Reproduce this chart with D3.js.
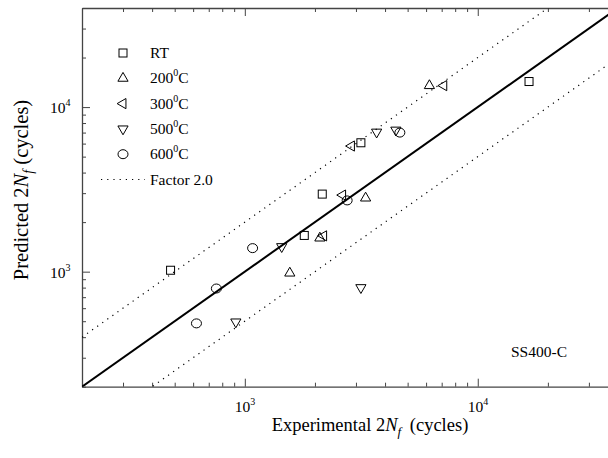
<!DOCTYPE html>
<html>
<head>
<meta charset="utf-8">
<script src="https://cdn.jsdelivr.net/npm/d3@7"></script>
<style>
  body { margin: 0; background: #fff; }
  svg { font-family: "Liberation Serif", "Times New Roman", serif; }
</style>
</head>
<body>
<div id="chart"></div>
<script>
// experimental vs predicted reversals to failure, one array per temperature
const seriesNames = ["RT", "200", "300", "500", "600"];
const rtData   = [[480, 1020], [2150, 2960], [1800, 1660], [3150, 6070], [16600, 14300]];
const t200Data = [[6200, 13500], [3300, 2800], [2100, 1600], [1560, 980]];
const t300Data = [[7150, 13500], [2870, 5800], [2630, 2920], [2180, 1650]];
const t500Data = [[3680, 7050], [4450, 7250], [1440, 1420], [3150, 800], [915, 495]];
const t600Data = [[620, 485], [755, 790], [1080, 1390], [2750, 2710], [4630, 7000]];
const majorTicks = [1000, 10000];
const factor = 2.0;

const W = 608, H = 458;
const margin = {top: 8, left: 82},
      width = 536, height = 378.7;

const svg = d3.select("#chart").append("svg")
    .attr("width", W).attr("height", H);

const x = d3.scaleLog().domain([200, 40000]).range([margin.left, margin.left + width]);
const y = d3.scaleLog().domain([200, 40000]).range([margin.top + height, margin.top]);

// all 1..9 x decade ticks inside the domain
const allTicks = [];
[100, 1000, 10000].forEach(d => {
    for (let k = 1; k < 10; k++) {
        const v = d * k;
        if (v >= 200 && v <= 40000) allTicks.push(v);
    }
});
const minorTicks = allTicks.filter(v => !majorTicks.includes(v));

const axisColor = "#444";
const plot = svg.append("g");

function drawAxis(axisFn, scale, transform) {
    plot.append("g").attr("transform", transform)
        .call(axisFn(scale).tickValues(minorTicks).tickSize(-4).tickFormat("").tickSizeOuter(0))
        .call(g => g.selectAll("line").attr("stroke", axisColor))
        .call(g => g.select(".domain").attr("stroke", axisColor).attr("stroke-width", 1.3));
    plot.append("g").attr("transform", transform)
        .call(axisFn(scale).tickValues(majorTicks).tickSize(-8).tickFormat("").tickSizeOuter(0))
        .call(g => g.selectAll("line").attr("stroke", axisColor))
        .call(g => g.select(".domain").remove());
}

drawAxis(d3.axisBottom, x, `translate(0,${margin.top + height})`);
drawAxis(d3.axisTop, x, `translate(0,${margin.top})`);
drawAxis(d3.axisLeft, y, `translate(${margin.left},0)`);

// tick labels 10^n
majorTicks.forEach(v => {
    const e = Math.round(Math.log10(v));
    const tx = svg.append("text")
        .attr("x", x(v) - 10).attr("y", margin.top + height + 25)
        .attr("font-size", 15.5);
    tx.append("tspan").text("10");
    tx.append("tspan").attr("dy", -7).attr("font-size", 10).text(e);

    const ty = svg.append("text")
        .attr("x", 50).attr("y", y(v) + 6)
        .attr("font-size", 15.5);
    ty.append("tspan").text("10");
    ty.append("tspan").attr("dy", -7).attr("font-size", 10).text(e);
});

// clip for lines
svg.append("clipPath").attr("id", "clip")
    .append("rect").attr("x", margin.left).attr("y", margin.top)
    .attr("width", width).attr("height", height);

const lineG = svg.append("g").attr("clip-path", "url(#clip)");
const dom = [200, 40000];
const refLine = d3.line().x(d => x(d[0])).y(d => y(d[1]));

lineG.append("path")
    .datum(dom.map(v => [v, v]))
    .attr("d", refLine).attr("fill", "none")
    .attr("stroke", "#000").attr("stroke-width", 2);

[factor, 1 / factor].forEach(f => {
    lineG.append("path")
        .datum(dom.map(v => [v, v * f]))
        .attr("d", refLine).attr("fill", "none")
        .attr("stroke", "#000").attr("stroke-width", 1.2)
        .attr("stroke-dasharray", "1.2,5");
});

// markers
const tri = d3.symbol().type(d3.symbolTriangle).size(45);
const markers = {
    RT:  g => g.append("rect").attr("x", -4).attr("y", -4).attr("width", 8).attr("height", 8),
    "200": g => g.append("path").attr("d", tri()),
    "300": g => g.append("path").attr("d", tri()).attr("transform", "rotate(-90)"),
    "500": g => g.append("path").attr("d", tri()).attr("transform", "rotate(180)"),
    "600": g => g.append("ellipse").attr("rx", 5).attr("ry", 4.5)
};
const seriesData = [rtData, t200Data, t300Data, t500Data, t600Data];

function marker(parent, name, cx, cy) {
    const g = parent.append("g").attr("transform", `translate(${cx},${cy})`)
        .attr("fill", "none").attr("stroke", "#000").attr("stroke-width", 1);
    markers[name](g);
}

seriesData.forEach((data, i) => {
    data.forEach(d => marker(svg, seriesNames[i], x(d[0]), y(d[1])));
});

// legend
const legendX = 123, legendY0 = 53, legendStep = 25.3;
seriesNames.forEach((name, i) => {
    const ly = legendY0 + i * legendStep;
    marker(svg, name, legendX, ly);
    const t = svg.append("text").attr("x", 150).attr("y", ly + 5).attr("font-size", 15.5);
    if (name === "RT") {
        t.text("RT");
    } else {
        t.append("tspan").text(name);
        t.append("tspan").attr("dy", -7).attr("font-size", 10).text("0");
        t.append("tspan").attr("dy", 7).text("C");
    }
});
const fy = legendY0 + 5 * legendStep;
svg.append("line").attr("x1", 101).attr("x2", 145).attr("y1", fy).attr("y2", fy)
    .attr("stroke", "#000").attr("stroke-width", 1.2).attr("stroke-dasharray", "1.2,5");
svg.append("text").attr("x", 150).attr("y", fy + 5).attr("font-size", 15.5).text("Factor 2.0");

svg.append("text").attr("x", 511).attr("y", 357).attr("font-size", 15.5).text("SS400-C");

// axis titles
const xt = svg.append("text").attr("x", 370).attr("y", 431)
    .attr("text-anchor", "middle").attr("font-size", 18.5);
xt.append("tspan").text("Experimental 2");
xt.append("tspan").attr("font-style", "italic").text("N");
xt.append("tspan").attr("font-style", "italic").attr("font-size", 13).attr("dy", 5).text("f");
xt.append("tspan").attr("dy", -5).attr("dx", 4).text(" (cycles)");

const yt = svg.append("text").attr("transform", "translate(28,190) rotate(-90)")
    .attr("text-anchor", "middle").attr("font-size", 20.5);
yt.append("tspan").text("Predicted 2");
yt.append("tspan").attr("font-style", "italic").text("N");
yt.append("tspan").attr("font-style", "italic").attr("font-size", 14).attr("dy", 5).text("f");
yt.append("tspan").attr("dy", -5).text(" (cycles)");
</script>
</body>
</html>
